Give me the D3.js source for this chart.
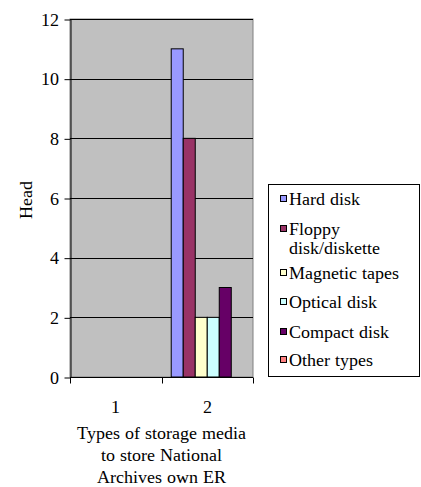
<!DOCTYPE html>
<html><head><meta charset="utf-8">
<script src="https://cdn.jsdelivr.net/npm/d3@7"></script>
<style>
@font-face { font-family: "RefSerif"; src: local("Liberation Serif"), local("LiberationSerif"), local("LiberationSerif-Regular"), local("Times New Roman"); }
</style>
</head><body style="margin:0">
<svg id="c" width="421" height="487"></svg>
<script>
const categories = ["1", "2"];
const seriesNames = ["Hard disk", "Floppy disk/diskette", "Magnetic tapes", "Optical disk", "Compact disk", "Other types"];
const legendLines = [["Hard disk"], ["Floppy", "disk/diskette"], ["Magnetic tapes"], ["Optical disk"], ["Compact disk"], ["Other types"]];
const seriesColors = ["#9999FF", "#993366", "#FFFFCC", "#CCFFFF", "#660066", "#FF8080"];
const values = [
  [0, 11],  // Hard disk
  [0, 8],   // Floppy
  [0, 2],   // Magnetic tapes
  [0, 2],   // Optical disk
  [0, 3],   // Compact disk
  [0, 0]    // Other types
];
const yTicks = [0, 2, 4, 6, 8, 10, 12];
const yLabel = "Head";
const xTitle = ["Types of storage media", "to store National", "Archives own ER"];

const FS = 18;
const svg = d3.select("#c");
const L = 70, R = 253, T = 19, B = 377;
const x = d3.scaleBand().domain(categories).range([L, R]).paddingInner(0).paddingOuter(0);
const y = d3.scaleLinear().domain([0, 12]).range([B, T]);
const xs = d3.scaleBand().domain(seriesNames).range([0, x.bandwidth()]).paddingOuter(0.81).paddingInner(0);

function font(sel) {
  return sel.attr("font-family", "Liberation Serif")
    .style("font-family", "RefSerif, 'Liberation Serif', 'Times New Roman', Tinos, Times")
    .attr("font-size", FS).attr("fill", "#000");
}

svg.append("rect").attr("x", L).attr("y", T).attr("width", R - L).attr("height", B - T)
  .attr("fill", "#C0C0C0").attr("stroke", "#808080").attr("stroke-width", 1);

// gridlines
svg.append("g").selectAll("line").data(yTicks).join("line")
  .attr("x1", L).attr("x2", R).attr("y1", d => Math.round(y(d)) + 0.5).attr("y2", d => Math.round(y(d)) + 0.5)
  .attr("stroke", "#000").attr("stroke-width", 1);

// bars
categories.forEach((c, ci) => {
  seriesNames.forEach((s, si) => {
    const v = values[si][ci];
    if (v <= 0) return;
    svg.append("rect")
      .attr("x", x(c) + xs(s)).attr("width", xs.bandwidth())
      .attr("y", y(v)).attr("height", y(0) - y(v))
      .attr("fill", seriesColors[si]).attr("stroke", "#000").attr("stroke-width", 1);
  });
});

// y axis
const yAxis = d3.axisLeft(y).tickValues(yTicks).tickSize(6).tickSizeOuter(0).tickPadding(6);
const gy = svg.append("g").attr("transform", `translate(${L + 0.5},0.5)`).call(yAxis);
gy.attr("font-family", "Liberation Serif").attr("font-size", FS);
font(gy.selectAll("text"));
gy.select(".domain").attr("stroke", "#000");

// x axis
const gx = svg.append("g").attr("transform", `translate(0,${B + 0.5})`);
gx.append("line").attr("x1", L).attr("x2", R).attr("stroke", "#000");
const xEdges = [L].concat(categories.map(c => x(c) + x.bandwidth()));
gx.selectAll("line.t").data(xEdges).join("line").attr("class", "t")
  .attr("x1", d => Math.round(d) + 0.5).attr("x2", d => Math.round(d) + 0.5).attr("y1", 0).attr("y2", 6).attr("stroke", "#000");
font(gx.selectAll("text").data(categories).join("text")
  .attr("x", d => x(d) + x.bandwidth() / 2).attr("y", 35)
  .attr("text-anchor", "middle").text(d => d));

// x title
font(svg.append("g").selectAll("text").data(xTitle).join("text")
  .attr("x", (L + R) / 2).attr("y", (d, i) => 439 + i * 22)
  .attr("text-anchor", "middle").text(d => d));

// y label
font(svg.append("text").attr("transform", `translate(32,${(T + B) / 2 + 2}) rotate(-90)`)
  .attr("text-anchor", "middle").text(yLabel));

// legend
const lg = svg.append("g");
lg.append("rect").attr("x", 268.5).attr("y", 184.5).attr("width", 151).attr("height", 192)
  .attr("fill", "#fff").attr("stroke", "#000");
const itemY = [199, 229, 273, 302, 332, 360];
legendLines.forEach((lines, i) => {
  lg.append("rect").attr("x", 280.5).attr("y", itemY[i] - 3.5).attr("width", 6).attr("height", 6)
    .attr("fill", seriesColors[i]).attr("stroke", "#000");
  lines.forEach((t, j) => {
    font(lg.append("text").attr("x", 289).attr("y", itemY[i] + 6 + j * 19).text(t));
  });
});
</script>
</body></html>
